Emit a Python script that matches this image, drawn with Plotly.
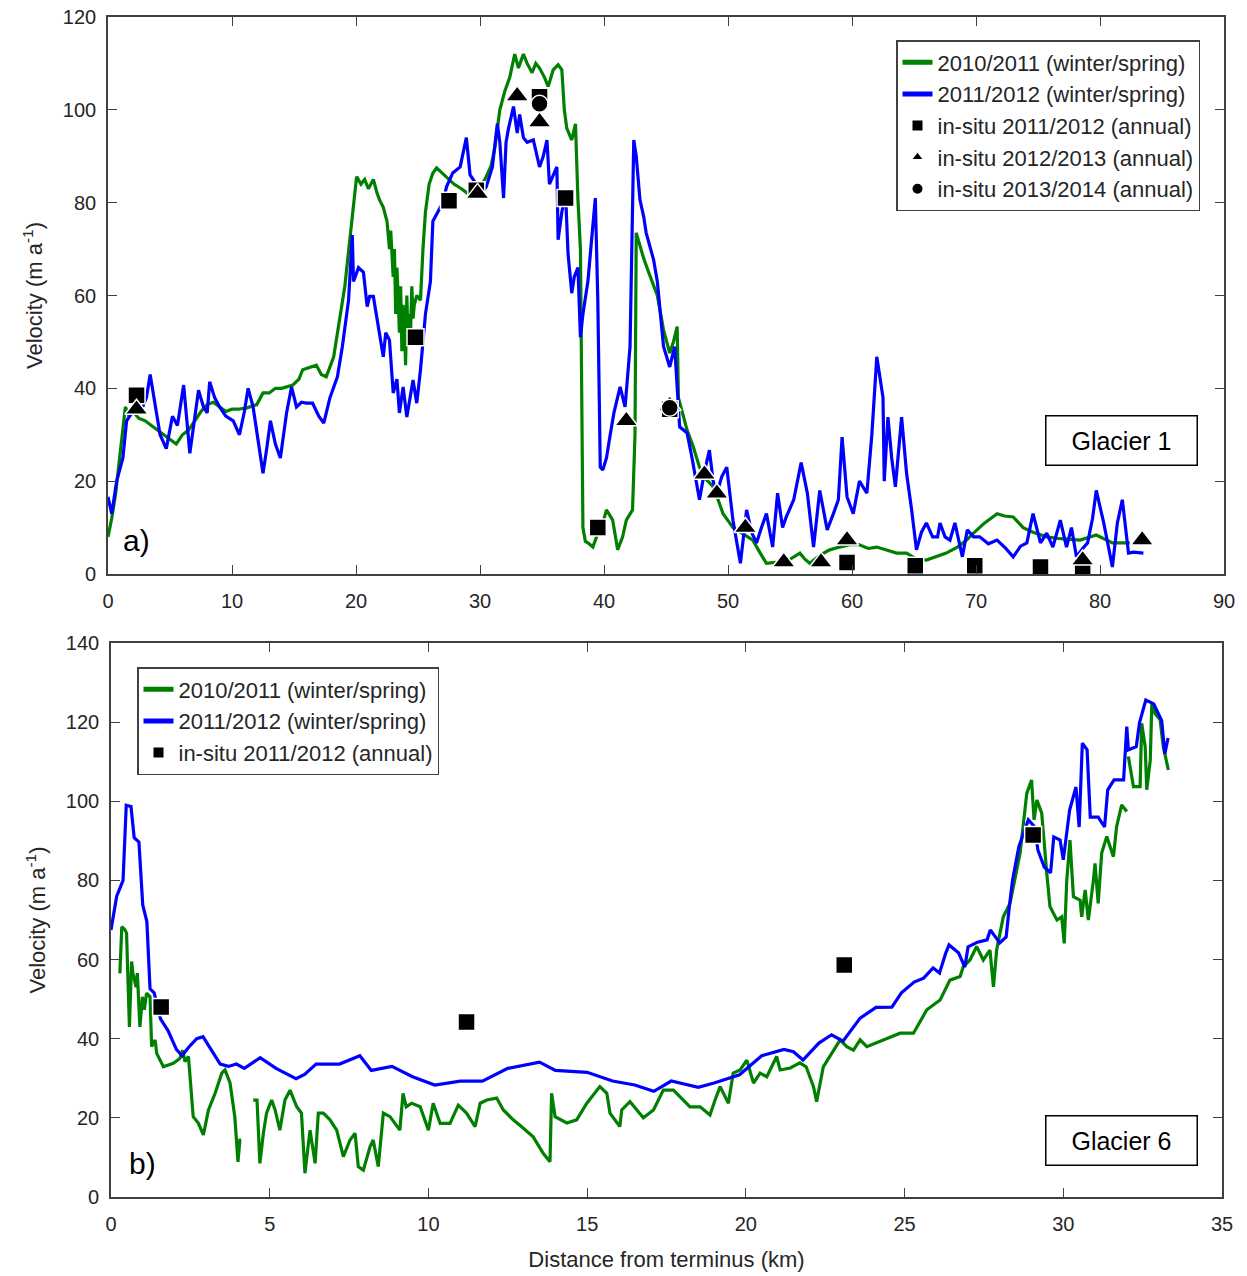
import plotly.graph_objects as go

# ---------------- Glacier 1 (panel a) ----------------
g1_x = [0, 0.3, 0.6, 0.9, 1.2, 1.4, 1.7, 2.0, 2.5, 3.0, 3.5, 4.0, 4.5, 5.0, 5.5, 6.0, 6.5, 7.0, 7.5, 8.0,
        8.5, 9.0, 9.5, 10.0, 10.5, 11.2, 12.0, 12.5, 13.0, 13.5, 14.0, 14.9, 15.4, 15.7, 16.2, 16.8, 17.2, 17.6, 18.2, 18.7,
        19.1, 19.5, 19.8, 20.05, 20.4, 20.7, 21.0, 21.4, 21.7, 21.9, 22.2, 22.5, 22.7, 22.8, 23.0, 23.1, 23.2, 23.3, 23.4, 23.5,
        23.6, 23.7, 23.8, 23.9, 24.0, 24.1, 24.2, 24.3, 24.4, 24.5, 24.6, 24.7, 24.9, 25.2, 25.4, 25.6, 25.9, 26.2, 26.5, 26.9,
        27.3, 27.9, 28.5, 29.0, 29.5, 30.0, 30.5, 30.9, 31.2, 31.6, 32.0, 32.4, 32.8, 33.1, 33.5, 33.8, 34.2, 34.5, 34.8, 35.2,
        35.5, 35.9, 36.3, 36.6, 36.8, 37.0, 37.4, 37.7, 37.9, 38.1, 38.2, 38.3, 38.5, 38.7, 39.1, 39.4, 39.8, 40.2, 40.7, 41.1,
        41.5, 41.8, 42.3, 42.5, 42.6, 42.9, 43.2, 43.6, 44.0, 44.3, 44.8, 45.3, 45.6, 45.9, 46.0, 46.4, 46.7, 47.2, 47.7, 48.2,
        48.8, 49.2, 49.6, 50.0, 50.4, 51.0, 52.0, 52.6, 53.1, 53.8, 54.5, 55.2, 55.8, 56.2, 56.6, 57.4, 58.2, 59.0, 59.8, 60.6,
        61.3, 62.0, 62.8, 63.6, 64.4, 65.2, 66.0, 66.8, 67.6, 68.5, 69.2, 69.8, 70.7, 71.7, 72.3, 73.0, 73.8, 74.6, 75.7, 76.8,
        78.4, 79.7, 80.4, 81.0, 82.4]
g1_y = [8, 12, 17, 24, 30, 36, 34, 35, 33.5, 33, 32, 31, 30, 29, 28, 30, 31, 33, 35, 36.5,
        37, 36, 35, 35.5, 35.5, 35.8, 36.5, 39, 39, 40, 40, 40.7, 42, 44, 44.5, 45, 43, 42.5, 46.8, 54.7,
        62, 72, 80, 85.6, 84, 85, 83, 85, 82, 80.6, 79, 76, 70, 74, 64, 70, 56, 66, 60, 52,
        62, 48, 58, 54, 45, 60, 50, 56, 52, 62, 55, 58, 60, 59, 70, 78, 84, 86.4, 87.5, 86.5,
        85.6, 84, 83, 82, 82.5, 83, 85.6, 88, 92, 100, 104, 107, 112, 109, 112, 110, 108, 110, 109, 107,
        105, 108.6, 109.7, 108.6, 100, 96, 93.5, 97, 80.6, 70, 40, 10, 7, 6.7, 5.8, 8, 10, 13.8, 11.6, 5.2,
        8, 11.6, 13.8, 30, 73.5, 70.5, 68, 65, 62, 60, 52.6, 47.6, 50, 53.3, 38, 34, 31, 27.4, 23, 20.5,
        18.8, 16, 13, 11.5, 10, 9, 7.3, 4.5, 2.3, 2.5, 2.3, 3.5, 4.5, 3.2, 2.3, 4, 5.2, 5.8, 6.3, 6.3,
        5.5, 5.8, 5.2, 4.5, 4.5, 3.2, 3, 3.8, 4.5, 5.8, 7.2, 8.8, 11, 13, 12.5, 12.3, 10, 9, 8, 7.6,
        7.3, 8.4, 7.5, 6.7, 6.7]

b1_x = [0, 0.3, 0.7, 1.2, 1.5, 2.0, 2.8, 3.1, 3.4, 3.8, 4.2, 4.7, 5.2, 5.6, 6.1, 6.6, 7.0, 7.3, 7.7, 8.0,
        8.2, 8.6, 9.0, 9.5, 10.1, 10.6, 11.0, 11.3, 11.7, 12.0, 12.5, 12.8, 13.1, 13.5, 13.9, 14.4, 14.8, 15.2, 15.6, 16.0,
        16.5, 17.0, 17.4, 17.9, 18.5, 18.9, 19.4, 19.7, 19.8, 20.2, 20.6, 20.9, 21.1, 21.4, 21.7, 21.9, 22.2, 22.4, 22.7, 23.0,
        23.3, 23.5, 23.8, 24.1, 24.4, 24.6, 24.9, 25.2, 25.6, 26.0, 26.2, 26.6, 27.0, 27.3, 27.8, 28.4, 28.9, 29.2, 29.7, 30.1,
        30.5, 31.0, 31.4, 31.6, 31.9, 32.1, 32.3, 32.7, 33.0, 33.2, 33.5, 33.8, 34.3, 34.8, 35.1, 35.4, 35.6, 36.2, 36.3, 36.6,
        36.9, 37.1, 37.4, 37.6, 37.9, 38.1, 38.3, 38.7, 39.0, 39.3, 39.5, 39.7, 39.9, 40.2, 40.5, 40.8, 41.3, 41.7, 42.1, 42.3,
        42.4, 42.6, 42.9, 43.2, 43.4, 44.0, 44.3, 44.8, 45.3, 45.7, 46.1, 46.7, 47.1, 47.7, 48.1, 48.5, 48.8, 49.1, 49.5, 49.9,
        50.4, 51.0, 51.5, 51.9, 52.3, 52.7, 53.1, 53.6, 54.0, 54.4, 54.7, 55.3, 55.9, 56.4, 56.9, 57.4, 58.0, 58.5, 58.9, 59.2,
        59.6, 60.1, 60.6, 61.2, 61.6, 62.0, 62.5, 62.6, 62.9, 63.2, 63.5, 64.0, 64.4, 64.8, 65.1, 65.2, 65.6, 66.0, 66.5, 66.9,
        67.1, 67.5, 67.9, 68.3, 68.9, 69.3, 69.8, 70.3, 71.0, 71.7, 72.4, 73.0, 73.6, 74.1, 74.6, 75.2, 75.7, 76.2, 76.8, 77.3,
        77.7, 78.1, 78.6, 79.0, 79.4, 79.7, 80.3, 80.6, 81.0, 81.4, 81.8, 82.3, 82.7, 83.5]
b1_y = [16.6, 13, 20, 25, 33, 35, 36, 38, 43, 36, 30, 27, 34, 32, 40.7, 26, 34, 39.6, 36, 34.7,
        41.4, 38, 36, 34, 33, 30, 35, 40, 36, 31, 21.7, 27, 33, 28, 25, 34.7, 40.3, 36, 37, 36.8,
        36.8, 34, 32.5, 38, 42.5, 49, 59, 73, 63, 66, 65, 57.6, 59.8, 59.8, 55, 52.6, 46.8, 52, 50.4, 39,
        42, 34.7, 40.3, 33.8, 39, 41.8, 36.8, 44, 56, 63, 76, 78, 80, 83.4, 86.4, 87.7, 94, 86, 84, 82,
        83.4, 87.7, 97, 93, 81, 93, 96, 100.7, 95, 99, 94, 93, 93.5, 87.7, 90, 93.5, 84, 87.7, 72, 78,
        82, 69, 60.5, 64, 66, 51, 56, 63, 72, 81, 59, 23, 22.4, 25, 30, 34.7, 40.3, 36, 49, 80,
        93.5, 90, 80.6, 77, 73.5, 67.7, 63, 49, 44.6, 49, 31.7, 30.4, 25, 16, 22, 26.7, 20, 17.4, 21, 23,
        11.6, 2.3, 13.8, 9, 6.7, 10, 13, 5.8, 17.4, 10, 12.3, 16, 24, 17.4, 5.8, 18, 9.5, 13, 16, 29.5,
        16.6, 13, 20, 17.4, 30, 46.8, 38, 20, 33.8, 25, 18.8, 33.8, 21.7, 14, 8, 5.2, 9, 11, 8, 8,
        11, 8, 7.3, 11, 3.7, 9.5, 8, 8, 6.5, 7.3, 5.5, 3.7, 6, 6.7, 13, 6.7, 8.8, 5.8, 11.6, 5.8,
        10, 3.7, 5.5, 6.7, 12, 18, 11, 7, 1.5, 11, 16, 4.5, 4.7, 4.5]

sq1_x = [2.3, 24.8, 27.5, 29.7, 34.8, 36.9, 39.5, 45.3, 59.6, 65.1, 69.9, 75.2, 78.6]
sq1_y = [38.5, 51, 80.4, 82.7, 102.8, 81, 10, 35.5, 2.5, 1.8, 1.8, 1.5, 0.3]
tri1_x = [2.3, 29.8, 33.0, 34.8, 41.8, 45.3, 48.1, 49.1, 51.4, 54.5, 57.5, 59.6, 78.6, 83.4]
tri1_y = [35.5, 82, 103, 97.4, 33, 36.3, 21.5, 17.4, 10, 2.6, 2.6, 7.3, 3, 7.3]
cir1_x = [34.8, 45.3]
cir1_y = [101.3, 35.8]

# ---------------- Glacier 6 (panel b) ----------------
g6_x = [0.28, 0.34, 0.44, 0.49, 0.58, 0.65, 0.69, 0.79, 0.83, 0.91, 0.99, 1.05, 1.12, 1.23, 1.28, 1.39, 1.44, 1.65, 1.96, 2.17,
        2.26, 2.33, 2.44, 2.59, 2.75, 2.91, 3.07, 3.28, 3.49, 3.59, 3.75, 3.9, 4.0, 4.06, 4.1, None,
        4.48, 4.6, 4.69, 4.8, 4.9, 5.06, 5.17, 5.32, 5.48, 5.64, 5.85, 6.0, 6.11, 6.22, 6.27, 6.43, 6.53, 6.69, 6.9, 7.11,
        7.32, 7.53, 7.69, 7.79, 7.95, 8.16, 8.26, 8.42, 8.58, 8.79, 9.1, 9.2, 9.3, 9.47, 9.74, 10.0, 10.15, 10.37, 10.68, 10.94,
        11.2, 11.47, 11.63, 11.84, 12.15, 12.36, 12.67, 12.9, 13.3, 13.62, 13.83, 13.88, 13.99, 14.36, 14.67, 14.99, 15.4, 15.62, 15.72, 16.03,
        16.09, 16.35, 16.67, 16.77, 17.09, 17.4, 17.72, 17.93, 18.24, 18.56, 18.87, 19.03, 19.19, 19.45, 19.6, 19.82, 20.03, 20.24, 20.45, 20.66,
        20.97, 21.08, 21.4, 21.7, 21.9, 22.13, 22.23, 22.44, 22.76, 22.97, 23.18, 23.39, 23.6, 23.81, 24.33, 24.86, 25.28, 25.7, 26.12, 26.43,
        26.75, 26.85, 27.06, 27.27, 27.48, 27.69, 27.8, 27.9, 28.11, 28.32, 28.64, 28.85, 29.0, 29.08, 29.17, 29.32, 29.48, 29.58, 29.8, 29.95,
        30.03, 30.11, 30.21, 30.32, 30.53, 30.58, 30.69, 30.79, 30.95, 31.0, 31.1, 31.21, 31.37, 31.58, 31.68, 31.84, 32.0, None,
        32.05, 32.21, 32.42, 32.47, 32.58, 32.63, 32.74, 32.79, 32.89, 33.05, 33.15, 33.21, 33.31]
g6_y = [56.5, 68.3, 67.5, 66.7, 43, 59.5, 56.6, 53, 56.6, 43, 50.6, 47.3, 51.5, 50.6, 38, 39.7, 36.3, 32.9, 33.8, 35,
        37.1, 34.2, 35.5, 20.3, 18.7, 15.7, 22, 26.2, 31.3, 32.1, 28.8, 20.3, 8.9, 14.4, 14.4, None,
        24.5, 24.5, 8.5, 16.1, 21.2, 24.5, 22, 16.9, 24.5, 27, 22.8, 21.2, 6, 12.7, 16.9, 8.5, 21.2, 21.2, 19.5, 16.9,
        10.2, 14.4, 16.1, 7.7, 6.8, 12.7, 14.4, 7.7, 21.2, 20.3, 16.9, 26.2, 22.8, 23.7, 22.8, 16.9, 23.7, 18.6, 18.6, 23.2,
        21.2, 17.8, 23.7, 24.5, 25, 22, 19.5, 18, 15.2, 11, 8.9, 26.2, 20.3, 18.7, 19.5, 23.7, 27.9, 26.2, 21.2, 17.8,
        22, 24.1, 21.2, 20, 22, 27, 27, 25.3, 22.8, 22.8, 20.7, 24.5, 27.9, 23.7, 31.3, 32.1, 34.6, 28.8, 31.3, 30.4,
        35.5, 32.1, 32.6, 33.9, 32.9, 27.9, 24.1, 32.9, 37.1, 39.7, 38, 37.1, 39.7, 38, 39.7, 41.4, 41.4, 47.3, 49.8, 54.8,
        55.7, 58.2, 59.9, 63.3, 59.9, 62.4, 53.1, 62.4, 70.8, 74.2, 86.9, 102, 105.4, 95.3, 100.3, 97, 81.8, 73.4, 70, 70.8,
        64.1, 80.1, 90.2, 75.9, 75, 70.8, 77.6, 70, 80.1, 84.3, 74.2, 86.9, 91.1, 86, 93.6, 99.1, 97.4, None,
        111.3, 103.7, 103.7, 119.7, 113.8, 102.9, 110.4, 124.8, 122.2, 120.6, 113.8, 111.3, 107.9]

b6_x = [0, 0.18, 0.38, 0.48, 0.63, 0.73, 0.88, 1.0, 1.13, 1.23, 1.36, 1.56, 1.8, 2.06, 2.24, 2.44, 2.7, 2.9, 3.07, 3.44,
        3.7, 3.95, 4.2, 4.7, 5.2, 5.83, 6.1, 6.46, 7.2, 7.84, 8.2, 8.85, 9.5, 10.2, 11.0, 11.7, 12.5, 13.5, 14.0, 15.0,
        15.8, 16.5, 17.1, 17.65, 18.5, 19.0, 19.8, 20.5, 21.2, 21.5, 21.8, 22.3, 22.7, 23.06, 23.6, 24.1, 24.6, 24.9, 25.3, 25.6,
        25.9, 26.1, 26.3, 26.4, 26.7, 26.9, 27.0, 27.3, 27.6, 27.7, 28.0, 28.2, 28.3, 28.4, 28.6, 28.9, 29.1, 29.2, 29.4, 29.6,
        29.7, 29.9, 30.0, 30.1, 30.2, 30.4, 30.5, 30.6, 30.75, 30.85, 31.1, 31.3, 31.4, 31.6, 31.9, 32.0, 32.05, 32.3, 32.4, 32.6,
        32.85, 33.1, 33.2, 33.3]
b6_y = [67.5, 76, 80, 99, 98.7, 90.8, 89.7, 73.8, 69.6, 52.6, 51.6, 45, 42, 37.3, 35.7, 37.8, 40, 40.5, 38.3, 33.6,
        33, 33.6, 32.5, 35.2, 32.5, 29.9, 31, 33.6, 33.6, 35.7, 32, 33, 30.4, 28.3, 29.3, 29.3, 32.5, 34.1, 32, 31.5,
        29.3, 28.3, 26.7, 29.3, 27.7, 28.8, 30.9, 35.7, 37.3, 36.7, 34.6, 38.9, 41, 39.4, 45.2, 47.9, 48, 51.6, 54.3, 55.3,
        57.9, 56.6, 61.7, 63.7, 61.7, 58.1, 63.2, 64.4, 65, 67.5, 64.2, 65.7, 73.3, 80, 88.5, 95.3, 93.5, 87.7, 83.4, 81.9,
        91, 90.2, 85.2, 91, 97.8, 103.6, 93.5, 114.7, 113, 96, 96, 93.5, 102.9, 105.4, 105.4, 118.9, 113, 113.8, 119.8, 125.6,
        124.6, 120.4, 112, 116]

sq6_x = [1.58, 11.2, 23.1, 29.05]
sq6_y = [48, 44.2, 58.6, 91.5]

# ---------------- labels ----------------
name_g = "2010/2011 (winter/spring)"
name_b = "2011/2012 (winter/spring)"
name_sq = "in-situ 2011/2012 (annual)"
name_tri = "in-situ 2012/2013 (annual)"
name_cir = "in-situ 2013/2014 (annual)"

GREEN = "#008000"
BLUE = "#0000FF"
AXC = "#404040"
FONT = "Liberation Sans, Arial, sans-serif"
LW = 3.2
MS = 17

fig = go.Figure()

# panel a
fig.add_trace(go.Scatter(x=g1_x, y=g1_y, mode="lines", name=name_g, line=dict(color=GREEN, width=LW),
                         xaxis="x", yaxis="y", legend="legend"))
fig.add_trace(go.Scatter(x=b1_x, y=b1_y, mode="lines", name=name_b, line=dict(color=BLUE, width=LW),
                         xaxis="x", yaxis="y", legend="legend"))
mk_line = dict(color="white", width=1.5)
fig.add_trace(go.Scatter(x=sq1_x, y=sq1_y, mode="markers", name=name_sq,
                         marker=dict(symbol="square", size=MS, color="black", line=mk_line),
                         xaxis="x", yaxis="y", legend="legend"))
fig.add_trace(go.Scatter(x=tri1_x, y=tri1_y, mode="markers", name=name_tri,
                         marker=dict(symbol="triangle-up", size=MS + 3, color="black", line=mk_line),
                         xaxis="x", yaxis="y", legend="legend"))
fig.add_trace(go.Scatter(x=cir1_x, y=cir1_y, mode="markers", name=name_cir,
                         marker=dict(symbol="circle", size=MS, color="black", line=mk_line),
                         xaxis="x", yaxis="y", legend="legend"))

# panel b
fig.add_trace(go.Scatter(x=g6_x, y=g6_y, mode="lines", name=name_g, line=dict(color=GREEN, width=LW),
                         xaxis="x2", yaxis="y2", legend="legend2", connectgaps=False))
fig.add_trace(go.Scatter(x=b6_x, y=b6_y, mode="lines", name=name_b, line=dict(color=BLUE, width=LW),
                         xaxis="x2", yaxis="y2", legend="legend2"))
fig.add_trace(go.Scatter(x=sq6_x, y=sq6_y, mode="markers", name=name_sq,
                         marker=dict(symbol="square", size=MS, color="black", line=mk_line),
                         xaxis="x2", yaxis="y2", legend="legend2"))

W, H = 1247, 1276

def px_x(p):
    return p / W

def px_y(p):
    return 1 - p / H

axis_common = dict(showline=True, linecolor=AXC, linewidth=1.6, mirror="ticks", ticks="inside",
                   ticklen=9, tickwidth=1.4, tickcolor=AXC, showgrid=False, zeroline=False,
                   automargin=False,
                   tickfont=dict(family=FONT, size=20, color="#262626"))

LEG_FONT = dict(family=FONT, size=22, color="#262626")

fig.update_layout(
    width=W, height=H,
    margin=dict(l=0, r=0, t=0, b=0, autoexpand=False),
    paper_bgcolor="white", plot_bgcolor="white",
    font=dict(family=FONT, color="#262626"),
    xaxis=dict(domain=[px_x(108), px_x(1224)], range=[0, 90], dtick=10, anchor="y",
               ticklabelstandoff=8, **axis_common),
    yaxis=dict(domain=[px_y(574), px_y(17)], range=[0, 120], dtick=20, anchor="x",
               ticklabelstandoff=6,
               title=dict(text="Velocity (m a<sup>-1</sup>)", font=dict(family=FONT, size=22, color="#262626"), standoff=14),
               **axis_common),
    xaxis2=dict(domain=[px_x(111), px_x(1222)], range=[0, 35], dtick=5, anchor="y2",
                ticklabelstandoff=8,
                title=dict(text="Distance from terminus (km)", font=dict(family=FONT, size=22, color="#262626"), standoff=18),
                **axis_common),
    yaxis2=dict(domain=[px_y(1197), px_y(643)], range=[0, 140], dtick=20, anchor="x2",
                ticklabelstandoff=6,
                title=dict(text="Velocity (m a<sup>-1</sup>)", font=dict(family=FONT, size=22, color="#262626"), standoff=14),
                **axis_common),
    legend=dict(x=px_x(1200), y=px_y(40), xanchor="right", yanchor="top",
                bgcolor="white", bordercolor=AXC, borderwidth=1.5,
                font=LEG_FONT, itemsizing="constant", tracegroupgap=0),
    legend2=dict(x=px_x(137), y=px_y(667), xanchor="left", yanchor="top",
                 bgcolor="white", bordercolor=AXC, borderwidth=1.5,
                 font=LEG_FONT, itemsizing="constant", tracegroupgap=0),
    showlegend=True,
    annotations=[
        dict(text="a)", x=px_x(136), y=px_y(540), xref="paper", yref="paper", showarrow=False,
             xanchor="center", yanchor="middle",
             font=dict(family=FONT, size=30, color="black")),
        dict(text="b)", x=px_x(142), y=px_y(1163), xref="paper", yref="paper", showarrow=False,
             xanchor="center", yanchor="middle",
             font=dict(family=FONT, size=30, color="black")),
        dict(text="Glacier 1", x=px_x(1121), y=px_y(440), xref="paper", yref="paper", showarrow=False,
             xanchor="center", yanchor="middle",
             font=dict(family=FONT, size=25, color="black"), width=148, height=46,
             bordercolor="black", borderwidth=1.5, borderpad=1, bgcolor="white"),
        dict(text="Glacier 6", x=px_x(1121), y=px_y(1140), xref="paper", yref="paper", showarrow=False,
             xanchor="center", yanchor="middle",
             font=dict(family=FONT, size=25, color="black"), width=148, height=46,
             bordercolor="black", borderwidth=1.5, borderpad=1, bgcolor="white"),
    ],
)

fig.write_html("out.html")
